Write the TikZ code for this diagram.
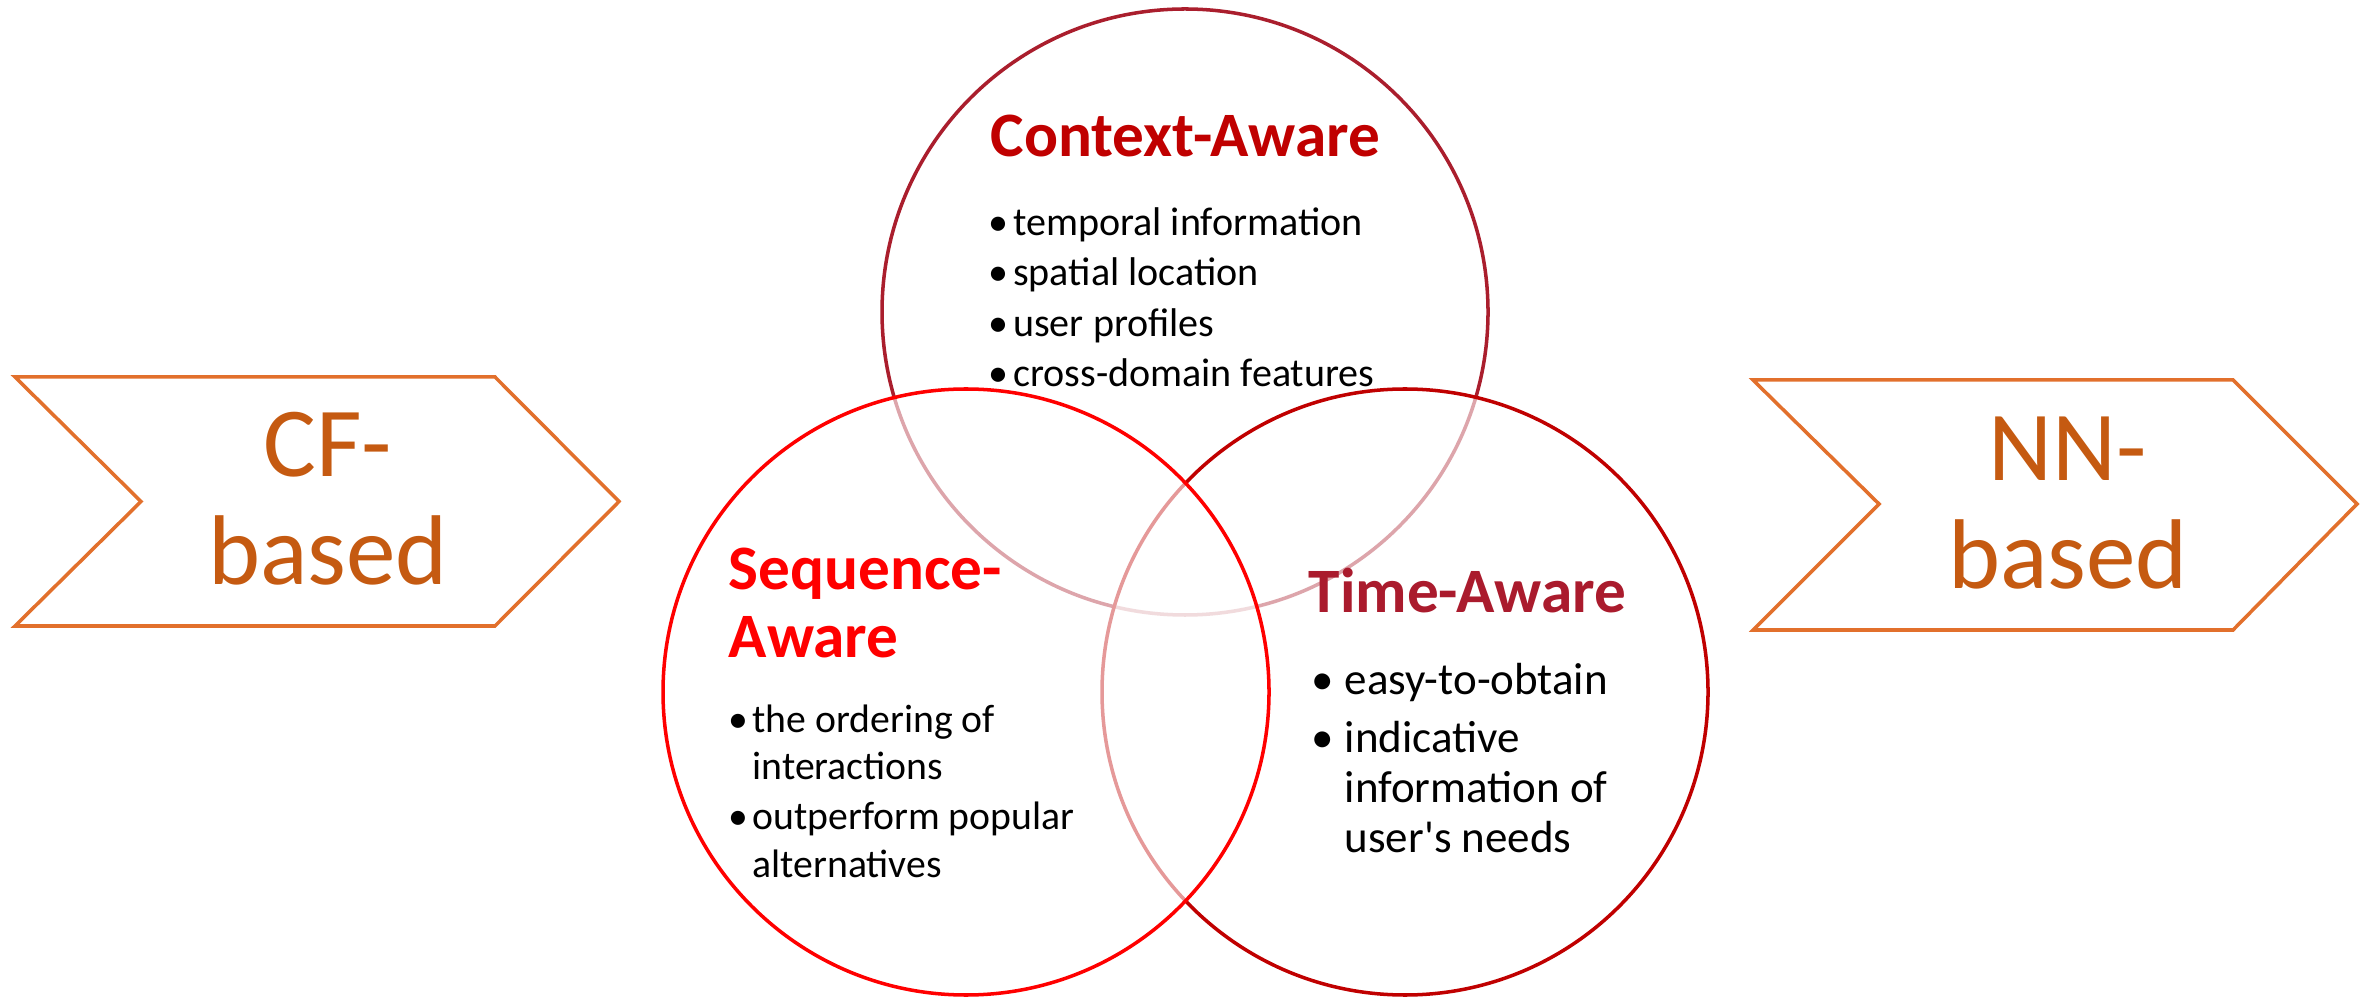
\documentclass[tikz,border=0pt]{standalone}
\usepackage{fontspec}
\setmainfont{Carlito}[Ligatures=TeXOff]
\definecolor{topring}{RGB}{170,30,45}
\definecolor{rightring}{RGB}{192,0,0}
\definecolor{leftring}{RGB}{255,0,0}
\definecolor{ctxred}{RGB}{192,0,0}
\definecolor{timered}{RGB}{170,27,45}
\definecolor{chevedge}{RGB}{226,112,44}
\definecolor{chevtext}{RGB}{197,90,17}
\newcommand{\bul}[1]{\makebox[#1][l]{\textbullet}}
\tikzset{
  ring/.style={circle, minimum size=6.06cm, inner sep=0pt, line width=1pt,
    fill=white, fill opacity=0.6},
  chevron/.style={draw=chevedge, line width=1pt},
  head/.style={inner sep=0pt, anchor=base west, font=\bfseries\fontsize{18}{19.4}\selectfont},
  items/.style={inner sep=0pt, anchor=base west, align=left},
  chevlabel/.style={inner sep=0pt, anchor=base, align=center, text=chevtext,
    font=\fontsize{28.2}{31}\selectfont}
}
\begin{document}
\begin{tikzpicture}
\useasboundingbox (0,0) rectangle (23.74,9.96);
% the three rings, top one first
\node[ring, draw=topring] (ctx) at (11.85,6.84) {};
\node[ring, draw=rightring] (tim) at (14.05,3.04) {};
\node[ring, draw=leftring] (seq) at (9.66,3.04) {};
% chevrons
\draw[chevron] (0.15,6.19) -- (4.95,6.19) -- (6.19,4.945) -- (4.95,3.70) -- (0.15,3.70) -- (1.41,4.945) -- cycle;
\node[chevlabel] (cf) at (3.28,4.11) {CF-\\based};
\draw[chevron] (17.53,6.16) -- (22.33,6.16) -- (23.57,4.92) -- (22.33,3.66) -- (17.53,3.66) -- (18.79,4.92) -- cycle;
\node[chevlabel] (nn) at (20.68,4.07) {NN-\\based};
% Context-Aware
\node[head, text=ctxred] (ctxhead) at (9.90,8.39) {Context-Aware};
\node[items, font=\fontsize{11.4}{14.4}\selectfont] (ctxlist) at (9.88,6.09)
  {\bul{7pt}temporal information\\ \bul{7pt}spatial location\\
   \bul{7pt}user profiles\\ \bul{7pt}cross-domain features};
% Sequence-Aware
\node[head, text=leftring, align=left] (seqhead) at (7.28,3.38) {Sequence-\\Aware};
\node[items, font=\fontsize{11.3}{13.4}\selectfont] (seqlist) at (7.28,1.19)
  {\bul{6.8pt}the ordering of\\ \hspace*{6.8pt}interactions\\[1pt]
   \bul{6.8pt}outperform popular\\ \hspace*{6.8pt}alternatives};
% Time-Aware
\node[head, text=timered] (timhead) at (13.08,3.83) {Time-Aware};
\node[items, font=\fontsize{12.8}{14.1}\selectfont] (timlist) at (13.11,1.44)
  {\bul{9.4pt}easy-to-obtain\\[2.4pt] \bul{9.4pt}indicative\\
   \hspace*{9.4pt}information of\\ \hspace*{9.4pt}user's needs};
\end{tikzpicture}
\end{document}
